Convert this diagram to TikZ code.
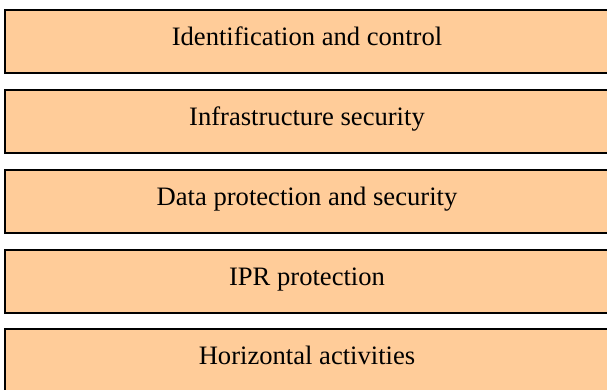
\documentclass[tikz,border=0pt]{standalone}
\usepackage{fontspec}
\setmainfont{Liberation Serif}
\usetikzlibrary{positioning}
\definecolor{peach}{HTML}{FFCC99}
\tikzstyle{layer} = [rectangle,draw=black,fill=peach,line width=2pt,minimum width=604pt,minimum height=63pt,inner sep=0pt,outer sep=0pt,text height=18pt,text depth=10pt,font=\fontsize{26.6}{30}\selectfont]

\begin{document}
\begin{tikzpicture}[x=1pt,y=1pt,node distance=16.75pt]
    \useasboundingbox (0,0) rectangle (607,-390);

    % stacked layers, top to bottom
    \node[layer] (ident) at (307,-41.8) {Identification and control};
    \node[layer,below=of ident] (infra) {Infrastructure security};
    \node[layer,below=of infra] (data) {Data protection and security};
    \node[layer,below=of data]  (ipr) {IPR protection};
    \node[layer,below=of ipr]   (horiz) {Horizontal activities};
\end{tikzpicture}
\end{document}
